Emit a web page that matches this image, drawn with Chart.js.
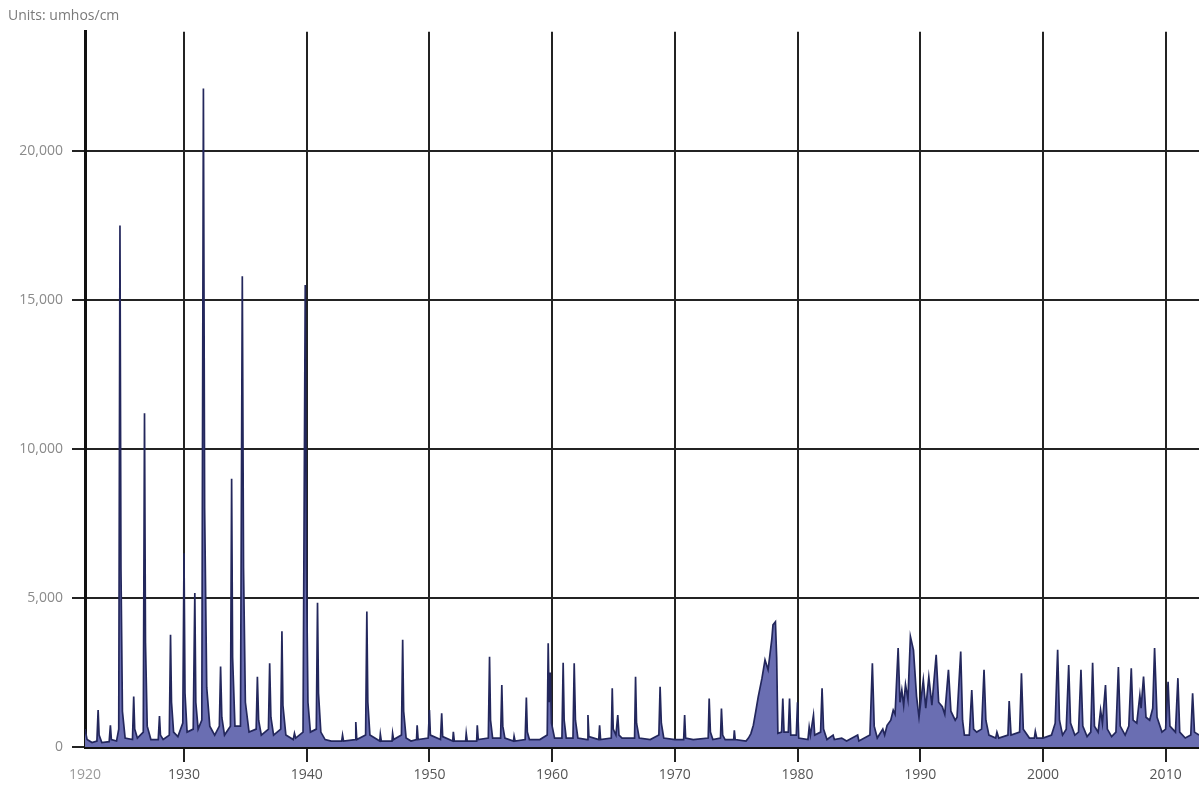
<!DOCTYPE html>
<html>
<head>
<meta charset="utf-8">
<script src="https://cdn.jsdelivr.net/npm/chart.js@4.4.1/dist/chart.umd.min.js"></script>
<style>
  html, body { margin: 0; padding: 0; background: #fff; }
  #wrap { width: 1199px; height: 793px; }
</style>
</head>
<body>
<div id="wrap"><canvas id="ec-chart"></canvas></div>
<script>
// axis range and ticks
const X_MIN = 1921.93;
const X_MAX = 2012.72;
const X_TICKS = [X_MIN, 1930, 1940, 1950, 1960, 1970, 1980, 1990, 2000, 2010];
const X_TICK_LABELS = ['1920', '1930', '1940', '1950', '1960', '1970', '1980', '1990', '2000', '2010'];
const Y_TICKS = [0, 5000, 10000, 15000, 20000];
const Y_MAX = 24000;

// [year, umhos/cm] readings per decade
const s1920 = [
    [1921.93, 600], [1922.1, 250], [1922.5, 150], [1922.9, 200], [1923.0, 1240], [1923.08, 400], [1923.3, 150],
    [1923.9, 180], [1924.0, 730], [1924.08, 250], [1924.5, 200], [1924.68, 600], [1924.78, 17500], [1924.86, 6000],
    [1924.98, 1200], [1925.2, 300], [1925.8, 250], [1925.9, 1690], [1925.98, 600], [1926.2, 300], [1926.68, 500],
    [1926.78, 11200], [1926.86, 3500], [1927.0, 700], [1927.3, 250], [1927.9, 250], [1928.0, 1035], [1928.08, 400],
    [1928.3, 250], [1928.8, 400], [1928.9, 3770], [1928.98, 1500], [1929.15, 500], [1929.5, 350], [1929.9, 800],
    [1930.0, 6500]
];
const s1930 = [
    [1930.08, 1800], [1930.25, 500], [1930.75, 600], [1930.88, 5170], [1930.96, 1500], [1931.15, 600], [1931.45, 900],
    [1931.58, 22100], [1931.68, 8000], [1931.85, 2000], [1932.1, 700], [1932.5, 400], [1932.88, 700], [1932.98, 2700],
    [1933.08, 1000], [1933.3, 400], [1933.78, 700], [1933.88, 9000], [1933.96, 3000], [1934.15, 700], [1934.6, 700],
    [1934.75, 15800], [1934.85, 6000], [1935.0, 1500], [1935.3, 500], [1935.88, 600], [1935.98, 2360], [1936.08, 900],
    [1936.3, 400], [1936.88, 600], [1936.98, 2810], [1937.08, 1000], [1937.3, 400], [1937.88, 600], [1937.98, 3880],
    [1938.06, 1400], [1938.3, 400], [1938.9, 250], [1939.0, 460], [1939.1, 300], [1939.7, 500], [1939.88, 15500],
    [1939.98, 6000], [1940.1, 1500]
];
const s1940 = [
    [1940.3, 500], [1940.78, 600], [1940.88, 4840], [1940.96, 1800], [1941.15, 500], [1941.5, 250], [1942.0, 200],
    [1942.85, 200], [1942.92, 400], [1943.0, 200], [1943.95, 250], [1944.0, 840], [1944.08, 250], [1944.8, 400],
    [1944.9, 4550], [1944.98, 1500], [1945.15, 400], [1945.95, 200], [1946.0, 430], [1946.08, 200], [1946.95, 200],
    [1947.0, 460], [1947.08, 250], [1947.72, 400], [1947.82, 3600], [1947.9, 1200], [1948.1, 300], [1948.5, 200],
    [1948.95, 250], [1949.0, 730], [1949.08, 250], [1949.9, 300], [1950.0, 1240]
];
const s1950 = [
    [1950.08, 400], [1950.9, 250], [1951.0, 1130], [1951.08, 350], [1951.9, 200], [1951.95, 510], [1952.03, 200],
    [1952.95, 200], [1953.0, 460], [1953.08, 200], [1953.85, 200], [1953.9, 730], [1953.98, 250], [1954.8, 300],
    [1954.9, 3030], [1954.98, 900], [1955.15, 300], [1955.8, 300], [1955.9, 2080], [1955.98, 700], [1956.15, 300],
    [1956.85, 200], [1956.9, 360], [1956.98, 200], [1957.8, 250], [1957.9, 1660], [1957.98, 500], [1958.15, 250],
    [1959.0, 250], [1959.6, 400], [1959.68, 3480], [1959.76, 1500], [1959.85, 2500], [1959.95, 800]
];
const s1960 = [
    [1960.2, 300], [1960.8, 300], [1960.9, 2830], [1960.98, 900], [1961.15, 300], [1961.7, 300], [1961.8, 2810],
    [1961.9, 900], [1962.1, 300], [1962.85, 250], [1962.92, 1070], [1963.0, 350], [1963.8, 250], [1963.87, 730],
    [1963.95, 250], [1964.82, 300], [1964.9, 1970], [1964.98, 600], [1965.2, 400], [1965.35, 1070], [1965.45, 400],
    [1965.7, 300], [1966.72, 300], [1966.8, 2360], [1966.88, 800], [1967.1, 300], [1968.0, 250], [1968.7, 400],
    [1968.8, 2020], [1968.9, 800], [1969.1, 300], [1970.0, 250]
];
const s1970 = [
    [1970.72, 250], [1970.8, 1070], [1970.88, 300], [1971.5, 250], [1972.72, 300], [1972.8, 1630], [1972.9, 500],
    [1973.1, 250], [1973.72, 300], [1973.8, 1290], [1973.9, 400], [1974.1, 250], [1974.8, 250], [1974.85, 560],
    [1974.92, 250], [1975.8, 200], [1976.0, 300], [1976.2, 450], [1976.4, 730], [1976.6, 1200], [1976.8, 1690],
    [1977.1, 2300], [1977.35, 2920], [1977.6, 2590], [1977.9, 3600], [1978.0, 4100], [1978.2, 4200], [1978.3, 3000],
    [1978.4, 460], [1978.7, 500], [1978.8, 1630], [1978.9, 500], [1979.25, 500], [1979.35, 1630], [1979.45, 400],
    [1979.9, 400], [1980.0, 1500]
];
const s1980 = [
    [1980.1, 300], [1980.85, 250], [1980.95, 670], [1981.05, 400], [1981.3, 1070], [1981.4, 400], [1981.88, 500],
    [1982.0, 1970], [1982.12, 600], [1982.4, 250], [1982.9, 400], [1983.0, 250], [1983.6, 300], [1984.0, 200],
    [1984.9, 400], [1985.0, 200], [1985.9, 400], [1986.1, 2810], [1986.25, 700], [1986.5, 300], [1986.95, 600],
    [1987.1, 400], [1987.3, 730], [1987.6, 900], [1987.8, 1240], [1987.95, 1100], [1988.2, 3320], [1988.35, 1500],
    [1988.5, 1910], [1988.65, 1400], [1988.8, 2100], [1989.0, 1600], [1989.2, 3710], [1989.45, 3250], [1989.7, 1700],
    [1989.9, 1000]
];
const s1990 = [
    [1990.25, 2250], [1990.45, 1300], [1990.7, 2350], [1990.95, 1400], [1991.3, 3090], [1991.5, 1500], [1991.8, 1350],
    [1992.0, 1100], [1992.3, 2590], [1992.5, 1200], [1992.85, 900], [1993.0, 1000], [1993.3, 3200], [1993.45, 900],
    [1993.6, 400], [1994.0, 400], [1994.2, 1910], [1994.35, 600], [1994.6, 500], [1995.0, 600], [1995.2, 2590],
    [1995.35, 900], [1995.6, 400], [1996.15, 300], [1996.25, 500], [1996.4, 300], [1997.15, 400], [1997.25, 1540],
    [1997.4, 400], [1998.1, 500], [1998.25, 2470], [1998.4, 600], [1998.9, 300], [1999.3, 300], [1999.38, 530],
    [1999.5, 300]
];
const s2000 = [
    [2000.0, 300], [2000.7, 400], [2001.0, 800], [2001.2, 3260], [2001.35, 900], [2001.6, 400], [2001.9, 600],
    [2002.1, 2750], [2002.25, 800], [2002.6, 400], [2002.9, 500], [2003.1, 2590], [2003.25, 700], [2003.6, 350],
    [2003.9, 500], [2004.05, 2830], [2004.2, 700], [2004.5, 500], [2004.7, 1240], [2004.85, 800], [2005.1, 2080],
    [2005.25, 600], [2005.6, 350], [2005.95, 500], [2006.15, 2680], [2006.3, 700], [2006.7, 400], [2007.0, 700],
    [2007.2, 2640], [2007.35, 900], [2007.65, 800], [2007.9, 1740], [2008.0, 1300], [2008.2, 2360], [2008.4, 1000],
    [2008.7, 900], [2008.95, 1300], [2009.1, 3320], [2009.3, 1000], [2009.7, 500]
];
const s2010 = [
    [2010.0, 600], [2010.2, 2190], [2010.35, 700], [2010.8, 500], [2011.0, 2310], [2011.15, 500], [2011.6, 300],
    [2012.05, 400], [2012.2, 1800], [2012.35, 500], [X_MAX, 400]
];

const SERIES = [].concat(s1920, s1930, s1940, s1950, s1960, s1970, s1980, s1990, s2000, s2010);

const GRID_COLOR = '#232323';
const AXIS_COLOR = '#111';

Chart.defaults.font.family = '"Open Sans", "Noto Sans", sans-serif';

const ctx = document.getElementById('ec-chart').getContext('2d');
new Chart(ctx, {
    type: 'line',
    data: {
        datasets: [{
            data: SERIES,
            borderColor: '#23275c',
            backgroundColor: '#6a6eb2',
            borderWidth: 1.7,
            pointRadius: 0,
            tension: 0,
            fill: 'origin'
        }]
    },
    options: {
        responsive: true, maintainAspectRatio: false,
        animation: false,
        layout: { padding: { left: 8, right: 0, top: 0, bottom: 0 } },
        plugins: {
            legend: { display: false },
            tooltip: { enabled: false },
            title: {
                display: true, text: 'Units: umhos/cm', align: 'start',
                color: '#7a7a7a', font: { size: 14, weight: 'normal' },
                padding: { top: 8, bottom: 7 }
            }
        },
        scales: {
            x: {
                type: 'linear', min: X_MIN, max: X_MAX, z: 1,
                afterBuildTicks: axis => { axis.ticks = X_TICKS.map(v => ({ value: v })); },
                afterFit: scale => { scale.height = 46; },
                border: { display: true, color: AXIS_COLOR, width: 3 },
                grid: {
                    color: GRID_COLOR, lineWidth: 2, tickLength: 15,
                    tickColor: c => c.index === 0 ? 'rgba(0,0,0,0)' : GRID_COLOR
                },
                ticks: {
                    padding: 5, maxRotation: 0, autoSkip: false,
                    color: c => c.index === 0 ? '#9a9a9a' : '#555',
                    font: { size: 14 },
                    callback: (v, i) => X_TICK_LABELS[i]
                }
            },
            y: {
                min: 0, max: Y_MAX, z: 1,
                afterBuildTicks: axis => { axis.ticks = Y_TICKS.map(v => ({ value: v })); },
                afterFit: scale => { scale.width = 77; },
                border: { display: true, color: AXIS_COLOR, width: 3 },
                grid: { color: GRID_COLOR, lineWidth: 2, tickLength: 13, tickColor: GRID_COLOR },
                ticks: {
                    padding: 9, color: '#8a8a8a', font: { size: 14 },
                    callback: v => v.toLocaleString('en-US')
                }
            }
        }
    }
});
</script>
</body>
</html>
